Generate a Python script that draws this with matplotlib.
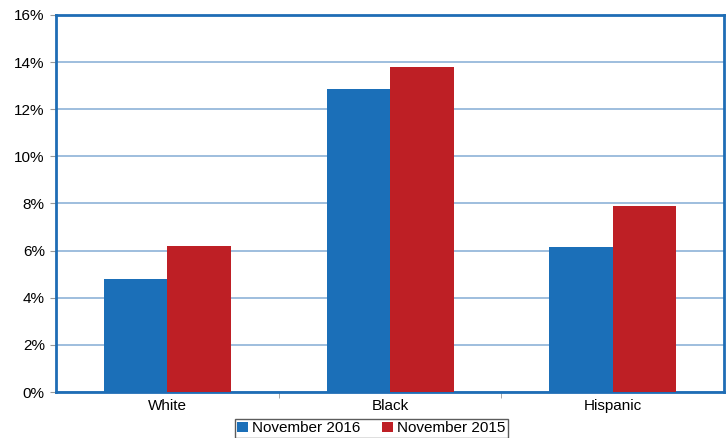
import numpy as np
import matplotlib.pyplot as plt

plt.rcParams['font.family'] = ['Liberation Sans', 'DejaVu Sans']

groups = ["White", "Black", "Hispanic"]
nov_2016 = [4.8, 12.85, 6.15]
nov_2015 = [6.2, 13.8, 7.9]

blue = "#1b6fb8"
red = "#be1f25"

fig = plt.figure(figsize=(7.27, 4.38), dpi=100)
ax = fig.add_axes([0.077, 0.105, 0.919, 0.861])

x = np.arange(len(groups))
w = 0.285
ax.bar(x - w / 2, nov_2016, w, color=blue, label="November 2016", zorder=3)
ax.bar(x + w / 2, nov_2015, w, color=red, label="November 2015", zorder=3)

ax.set_xlim(-0.5, 2.5)
ax.set_ylim(0, 16)
ax.set_yticks(range(0, 17, 2))
ax.set_yticklabels([f"{v}%" for v in range(0, 17, 2)], fontsize=11)
ax.yaxis.grid(True, color="#8db3d8", linewidth=1.2, zorder=0)

ax.set_xticks(x)
ax.set_xticklabels(groups, fontsize=11)
ax.tick_params(axis="x", length=0, pad=5)
ax.set_xticks([0.5, 1.5], minor=True)
ax.tick_params(axis="x", which="minor", length=4, color="#999999")
ax.tick_params(axis="y", length=4, color="#999999", pad=4)

for s in ax.spines.values():
    s.set_color("#1e6db5")
    s.set_linewidth(2)

fig.legend(loc="upper center", bbox_to_anchor=(0.511, 0.043), ncol=2,
           fontsize=11, frameon=True, fancybox=False, edgecolor="#333333",
           handlelength=0.7, handleheight=0.7, handletextpad=0.3,
           columnspacing=1.4, borderpad=0.15, borderaxespad=0)

fig.savefig("out.png", dpi=100)
